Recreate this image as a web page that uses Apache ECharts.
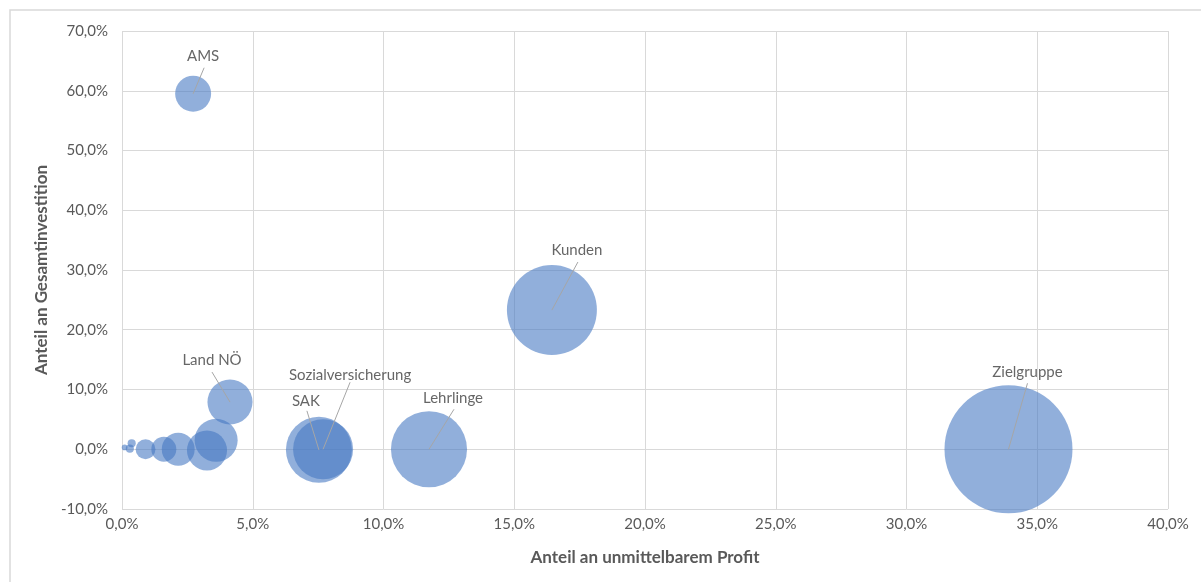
<!DOCTYPE html>
<html>
<head>
<meta charset="utf-8">
<script src="https://cdn.jsdelivr.net/npm/echarts@6/dist/echarts.min.js"></script>
<style>
html,body{margin:0;padding:0;background:#fff;}
#chart{width:1201px;height:582px;}
</style>
</head>
<body>
<div id="chart"></div>
<script>
// Bubble data: share of immediate profit (x), share of total investment (y), bubble size
const names       = ['', '', '', '', '', '', '', '', 'Land NÖ', 'AMS', 'SAK', 'Sozialversicherung', 'Lehrlinge', 'Kunden', 'Zielgruppe'];
const profitShare = [0.001, 0.003, 0.0037, 0.009, 0.016, 0.0215, 0.0325, 0.036, 0.0413, 0.0272, 0.0753, 0.0769, 0.1174, 0.1644, 0.339];
const investShare = [0.003, 0.001, 0.010, 0.000, 0.000, 0.000, -0.002, 0.015, 0.079, 0.595, -0.001, 0.000, 0.000, 0.233, 0.000];
const bubbleSize  = [0.2, 0.4, 0.4, 2.4, 3.8, 6.6, 9.8, 11.3, 12.4, 7.9, 26.6, 22.0, 35.3, 49.4, 100];
const xTicks = { min: 0, max: 0.4, interval: 0.05 };
const yTicks = { min: -0.1, max: 0.7, interval: 0.1 };

// Label layout (pixel offsets from bubble centre): [labelDx, labelDy, lineStartDx, lineStartDy]
const labelOffsets = {
  'Land NÖ': [-18, -42, -18, -30],
  'AMS': [10, -38, 11, -26],
  'SAK': [-13, -49, -12, -39],
  'Sozialversicherung': [27, -74, 27, -67],
  'Lehrlinge': [24, -51, 25, -40],
  'Kunden': [25, -60, 26, -48],
  'Zielgruppe': [19, -77, 19, -66]
};

const maxSize = Math.max(...bubbleSize);
const maxDiameter = 128;
const fmt = v => (v * 100).toFixed(1).replace('.', ',') + '%';
const FONT = 'Lato, "Open Sans", sans-serif';

const bubbleData = names.map((n, i) => {
  const off = labelOffsets[n];
  return {
    name: n,
    value: [profitShare[i], investShare[i], bubbleSize[i]],
    label: off ? { show: true, position: 'inside', offset: [off[0], off[1]] } : { show: false }
  };
});

const lineData = names.map((n, i) => labelOffsets[n] ? [profitShare[i], investShare[i], labelOffsets[n][2], labelOffsets[n][3]] : null).filter(Boolean);

const chart = echarts.init(document.getElementById('chart'), null, { renderer: 'canvas' });
chart.setOption({
  backgroundColor: '#fff',
  animation: false,
  graphic: [{
    type: 'rect', z: -1, silent: true,
    shape: { x: 10, y: 10, width: 1400, height: 800 },
    style: { fill: 'none', stroke: '#d9d9d9', lineWidth: 1.5 }
  }],
  grid: { left: 122, right: 33, top: 31, bottom: 73, containLabel: false },
  xAxis: {
    type: 'value', min: xTicks.min, max: xTicks.max, interval: xTicks.interval,
    name: 'Anteil an unmittelbarem Profit', nameLocation: 'middle', nameGap: 40,
    nameTextStyle: { fontFamily: FONT, fontSize: 17, fontWeight: 'bold', color: '#595959' },
    axisLine: { show: false }, axisTick: { show: false },
    axisLabel: { formatter: fmt, fontFamily: FONT, fontSize: 15, color: '#595959', margin: 8 },
    splitLine: { show: true, lineStyle: { color: '#d9d9d9', width: 1 } }
  },
  yAxis: {
    type: 'value', min: yTicks.min, max: yTicks.max, interval: yTicks.interval,
    name: 'Anteil an Gesamtinvestition', nameLocation: 'middle', nameGap: 64, nameRotate: 90,
    nameTextStyle: { fontFamily: FONT, fontSize: 17, fontWeight: 'bold', color: '#595959' },
    axisLine: { show: false }, axisTick: { show: false },
    axisLabel: { formatter: fmt, fontFamily: FONT, fontSize: 15, color: '#595959', margin: 14 },
    splitLine: { show: true, lineStyle: { color: '#d9d9d9', width: 1 } }
  },
  series: [{
    type: 'scatter',
    clip: true,
    data: bubbleData,
    symbolSize: v => maxDiameter * Math.sqrt(v[2] / maxSize),
    itemStyle: { color: 'rgba(70,120,195,0.74)' },
    label: { formatter: p => p.name, fontFamily: FONT, fontSize: 15, color: '#404040' },
    emphasis: { disabled: true },
    z: 2
  }, {
    type: 'custom',
    data: lineData,
    z: 3,
    silent: true,
    renderItem: (params, api) => {
      const p = api.coord([api.value(0), api.value(1)]);
      return {
        type: 'line',
        shape: { x1: p[0] + api.value(2), y1: p[1] + api.value(3), x2: p[0], y2: p[1] },
        style: { stroke: '#a6a6a6', lineWidth: 1 }
      };
    }
  }]
});
</script>
</body>
</html>
